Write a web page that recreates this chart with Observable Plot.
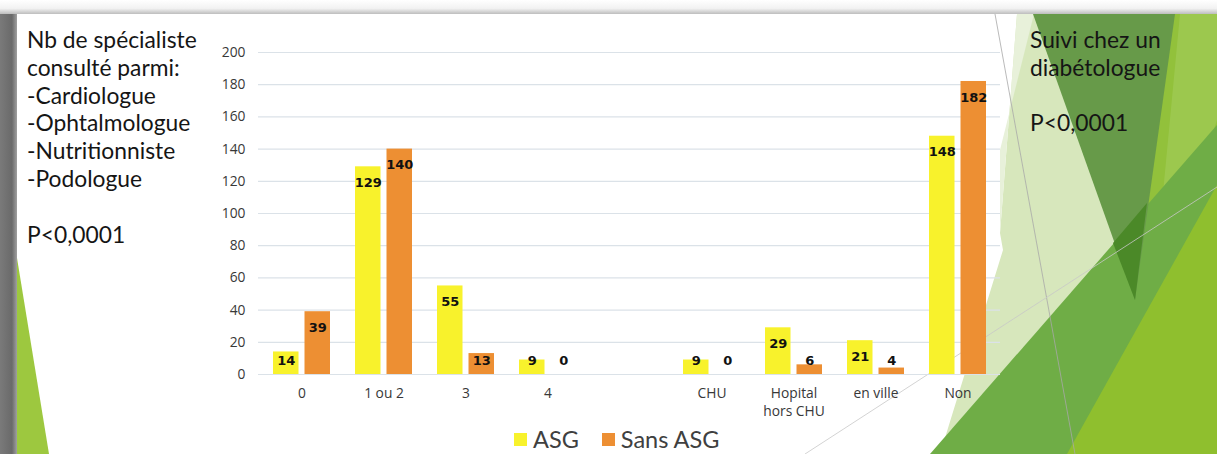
<!DOCTYPE html>
<html>
<head>
<meta charset="utf-8">
<script src="https://cdn.jsdelivr.net/npm/d3@7"></script>
<script src="https://cdn.jsdelivr.net/npm/@observablehq/plot@0.6"></script>
<style>
  html, body { margin: 0; padding: 0; background: #fff; }
  #slide { position: relative; width: 1217px; height: 454px; overflow: hidden; font-family: Lato, "Open Sans", sans-serif; }
  #bg { position: absolute; left: 0; top: 0; }
  #chart { position: absolute; left: 200px; top: 30px; }
  .note { position: absolute; font-size: 22.8px; line-height: 27.8px; color: #151515; white-space: pre; }
  #legend { position: absolute; left: 514px; top: 428px; display: flex; align-items: center; font-size: 23.5px; line-height: 23px; height: 23px; color: #404040; }
  #legend .sw { display: inline-block; width: 13px; height: 13px; margin-right: 6px; }
  #legend .item { display: flex; align-items: center; margin-right: 23px; }
</style>
</head>
<body>
<div id="slide">
  <svg id="bg" width="1217" height="454">
    <defs>
      <linearGradient id="topg" x1="0" y1="0" x2="0" y2="1">
        <stop offset="0" stop-color="#ffffff"/>
        <stop offset="0.6" stop-color="#f2f2f2"/>
        <stop offset="1" stop-color="#bdbdbd"/>
      </linearGradient>
      <linearGradient id="leftg" x1="0" y1="0" x2="1" y2="0">
        <stop offset="0" stop-color="#7a7a7a"/>
        <stop offset="0.7" stop-color="#6a6a6a"/>
        <stop offset="1" stop-color="#a0a0a0"/>
      </linearGradient>
    </defs>
    <rect x="0" y="0" width="1217" height="454" fill="#ffffff"/>
    <rect x="0" y="0" width="1217" height="14" fill="url(#topg)"/>
    <rect x="0" y="14" width="17" height="440" fill="url(#leftg)"/>
    <polygon points="17,258 17,454 49,454" fill="#9dc83f"/>
    <!-- right decorative shapes -->
    <polygon points="1017,14 1217,14 1217,454 940,454 1003,250 1000,233" fill="#d7e7bc"/>
    <polygon points="1017,14 1034,14 1000,150 1000,233" fill="#e8f1da"/>
    <polygon points="1150,14 1217,14 1217,454 1090,454" fill="#92c13b"/>
    <polygon points="1180,14 1217,14 1217,120 1150,330" fill="#9cc84e"/>
    <polygon points="930,454 1217,125 1217,454" fill="#6fad46"/>
    <polygon points="1067,454 1217,185 1217,454" fill="#8fbf2e"/>
    <polygon points="1033,14 1175,14 1135,300" fill="#679a49"/>
    <polygon points="1113,243 1147,203 1135,300" fill="#4b8928"/>
    <line x1="995" y1="14" x2="1075" y2="454" stroke="#a8a8a8" stroke-width="0.8"/>
    <line x1="805" y1="454" x2="1217" y2="187" stroke="#c8c8c8" stroke-width="0.8"/>
  </svg>
  <div class="note" style="left:27px; top:26px;">Nb de spécialiste
consulté parmi:
-Cardiologue
-Ophtalmologue
-Nutritionniste
-Podologue

P&lt;0,0001</div>
  <div class="note" style="left:1030px; top:26px;">Suivi chez un
diabétologue

P&lt;0,0001</div>
  <div id="chart"></div>
  <div id="legend"></div>
</div>
<script>
// ---- data ----
const specialistCategories = ["0", "1 ou 2", "3", "4"];
const diabetoCategories = ["CHU", "Hopital hors CHU", "en ville", "Non"];
const seriesNames = ["ASG", "Sans ASG"];
const asgSpecialist = [14, 129, 55, 9];
const sansSpecialist = [39, 140, 13, 0];
const asgDiabeto = [9, 29, 21, 148];
const sansDiabeto = [0, 6, 4, 182];
const yTicks = [0, 20, 40, 60, 80, 100, 120, 140, 160, 180, 200];
const gapKey = "";

const colors = {"ASG": "#f8f22c", "Sans ASG": "#ed8f33"};

const xDomain = [...specialistCategories, gapKey, ...diabetoCategories];
const asgData = [
  ...specialistCategories.map((c, i) => ({cat: c, value: asgSpecialist[i]})),
  ...diabetoCategories.map((c, i) => ({cat: c, value: asgDiabeto[i]}))
];
const sansData = [
  ...specialistCategories.map((c, i) => ({cat: c, value: sansSpecialist[i]})),
  ...diabetoCategories.map((c, i) => ({cat: c, value: sansDiabeto[i]}))
];

const labelY = d => Math.max(d.value, 18.6);
const fmtX = d => d === "Hopital hors CHU" ? "Hopital\nhors CHU" : d;
const axisFont = "'Open Sans', Lato, sans-serif";
const labelFont = "'DejaVu Sans', Verdana, sans-serif";

const chart = Plot.plot({
  width: 820,
  height: 400,
  marginLeft: 58,
  marginRight: 20,
  marginTop: 22,
  marginBottom: 56,
  style: {fontFamily: axisFont, background: "transparent", overflow: "visible"},
  x: {domain: xDomain, paddingInner: 0.31, paddingOuter: 0.155, label: null},
  y: {domain: [0, 200], label: null},
  marks: [
    Plot.gridY(yTicks, {stroke: "#dbe2e8", strokeOpacity: 1, strokeWidth: 1.2}),
    Plot.axisY({ticks: yTicks, tickSize: 0, tickPadding: 13, fontSize: 13.8, fill: "#383838", label: null}),
    Plot.axisX({tickSize: 0, tickPadding: 11, fontSize: 13.8, fill: "#383838", tickFormat: fmtX, lineHeight: 1.3, label: null}),
    Plot.barY(asgData, {x: "cat", y: "value", fill: colors["ASG"], insetRight: 31.5}),
    Plot.barY(sansData, {x: "cat", y: "value", fill: colors["Sans ASG"], insetLeft: 31.5}),
    Plot.text(asgData, {x: "cat", y: labelY, text: d => String(d.value), dx: -15.75, dy: 16, fontWeight: "bold", fontSize: 13, fontFamily: labelFont, fill: "#111"}),
    Plot.text(sansData, {x: "cat", y: labelY, text: d => String(d.value), dx: 15.75, dy: 16, fontWeight: "bold", fontSize: 13, fontFamily: labelFont, fill: "#111"})
  ]
});
document.getElementById("chart").appendChild(chart);

const legend = document.getElementById("legend");
seriesNames.forEach(name => {
  const item = document.createElement("span");
  item.className = "item";
  const sw = document.createElement("span");
  sw.className = "sw";
  sw.style.background = colors[name];
  const t = document.createElement("span");
  t.textContent = name;
  item.appendChild(sw);
  item.appendChild(t);
  legend.appendChild(item);
});
</script>
</body>
</html>
